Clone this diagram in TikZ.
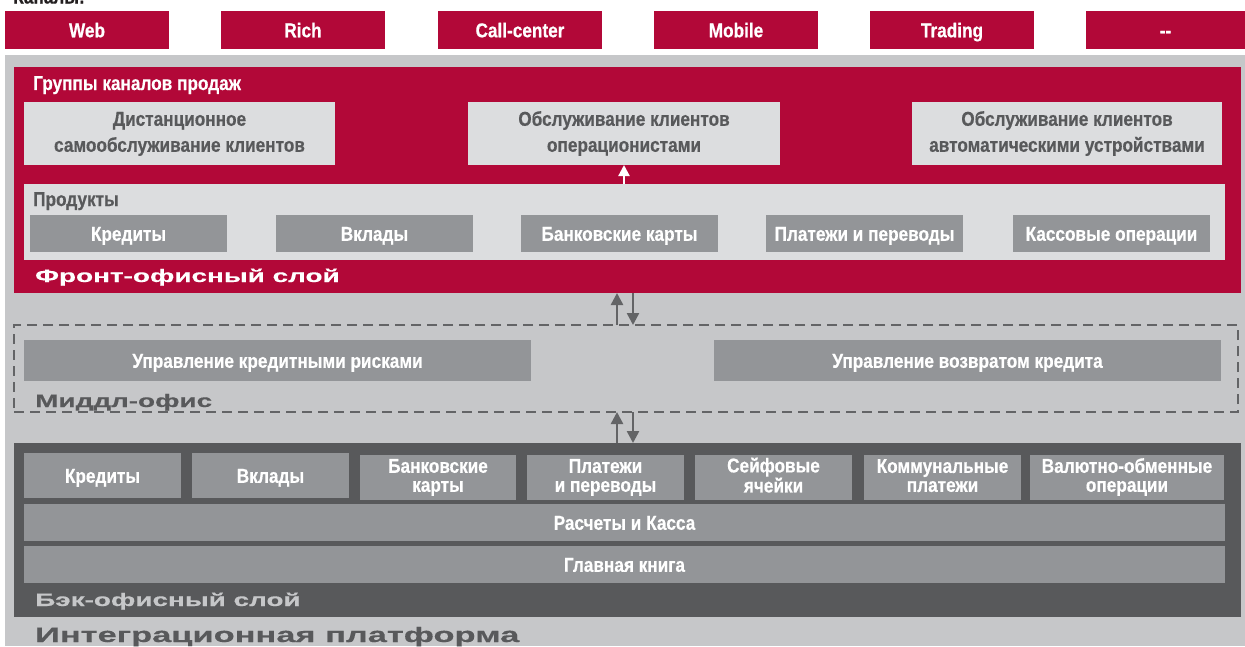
\documentclass[tikz,border=0pt]{standalone}
\usepackage{fontspec}
\setmainfont{Liberation Sans}
\newfontfamily\condf{Liberation Sans}[FakeStretch=0.86,FakeBold=0.5]
\newfontfamily\widef{Liberation Sans}[FakeStretch=1.55,FakeBold=0.4]
\newfontfamily\widerf{Liberation Sans}[FakeStretch=1.64,FakeBold=0.4]
\usetikzlibrary{arrows.meta}
\definecolor{cred}{HTML}{B20838}
\definecolor{cbg}{HTML}{C6C7C9}
\definecolor{clight}{HTML}{DCDDDF}
\definecolor{cmid}{HTML}{939598}
\definecolor{cdark}{HTML}{58595B}
\definecolor{carrow}{HTML}{636466}
\definecolor{cblack}{HTML}{231F20}
\newcommand{\twol}[2]{\vphantom{Бб}#1\\#2\vphantom{Дд}}
\tikzset{
  panel/.style={anchor=north west, inner sep=0pt, outer sep=0pt},
  boxtext/.style={font=\condf\bfseries\fontsize{20}{19}\selectfont, align=center},
  one/.style={text height=14.5pt, text depth=0pt},
  chan/.style={panel, fill=cred, minimum height=38pt, text=white, boxtext, one},
  lbox/.style={panel, fill=clight, minimum height=63pt, text=cdark, boxtext, font=\condf\bfseries\fontsize{20}{26}\selectfont, yshift=-3pt},
  pbox/.style={panel, fill=cmid, minimum width=197pt, minimum height=37pt, text=white, boxtext, one},
  bbox/.style={panel, fill=cmid, minimum height=45pt, text=white, boxtext},
  lbl/.style={anchor=base west, inner sep=0pt},
  garr/.style={draw=carrow, line width=2.5pt, -{Triangle[length=12pt,width=12pt]}},
  warr/.style={draw=white, line width=2.2pt, -{Triangle[length=11pt,width=11pt]}},
}
\begin{document}
\begin{tikzpicture}[x=1pt,y=-1pt]
\useasboundingbox (0,0) rectangle (1245,646);
\fill[white] (0,0) rectangle (1245,646);
% title (cut off at the top edge, as in the original)
\node[lbl, text=cblack, font=\condf\bfseries\fontsize{20}{22}\selectfont] (ttl) at (13,3.5) {Каналы:};
% channels
\node[chan, minimum width=164pt] (c1) at (5,11) {Web};
\node[chan, minimum width=164pt] (c2) at (221,11) {Rich};
\node[chan, minimum width=164pt] (c3) at (438,11) {Call-center};
\node[chan, minimum width=164pt] (c4) at (654,11) {Mobile};
\node[chan, minimum width=164pt] (c5) at (870,11) {Trading};
\node[chan, minimum width=159pt] (c6) at (1086,11) {-{}-};
% integration platform background
\node[panel, fill=cbg, minimum width=1240pt, minimum height=591pt] (plat) at (5,55) {};
% front office
\node[panel, fill=cred, minimum width=1227pt, minimum height=226pt] (front) at (14,67) {};
\node[lbl, text=white, font=\condf\bfseries\fontsize{20}{22}\selectfont] (grp) at (33,90) {Группы каналов продаж};
\node[lbox, minimum width=311pt] (dist) at (24,99) {\twol{Дистанционное}{самообслуживание клиентов}};
\node[lbox, minimum width=312pt] (ops) at (468,99) {\twol{Обслуживание клиентов}{операционистами}};
\node[lbox, minimum width=310pt] (auto) at (912,99) {\twol{Обслуживание клиентов}{автоматическими устройствами}};
\node[panel, fill=clight, minimum width=1201pt, minimum height=76pt] (prod) at (24,184) {};
\node[lbl, text=cdark, font=\condf\bfseries\fontsize{20}{22}\selectfont] (prodl) at (33,206) {Продукты};
\node[pbox] (p1) at (30,215) {Кредиты};
\node[pbox] (p2) at (276,215) {Вклады};
\node[pbox] (p3) at (521,215) {Банковские карты};
\node[pbox] (p4) at (766,215) {Платежи и переводы};
\node[pbox] (p5) at (1013,215) {Кассовые операции};
\node[lbl, text=white, font=\widef\bfseries\fontsize{18}{20}\selectfont] (frontl) at (35,282) {Фронт-офисный слой};
\draw[warr] (ops.south |- prod.north) -- (ops.south);
% middle office
\node[panel, draw=carrow, line width=2.5pt, dash pattern=on 10pt off 6pt, minimum width=1224pt, minimum height=87pt] (mid) at (14,325) {};
\node[panel, fill=cmid, minimum width=507pt, minimum height=41pt, text=white, boxtext, one] (m1) at (24,340) {Управление кредитными рисками};
\node[panel, fill=cmid, minimum width=507pt, minimum height=41pt, text=white, boxtext, one] (m2) at (714,340) {Управление возвратом кредита};
\node[lbl, text=cdark, font=\widef\bfseries\fontsize{18}{20}\selectfont] (midl) at (35,407) {Миддл-офис};
% back office
\node[panel, fill=cdark, minimum width=1227pt, minimum height=174pt] (back) at (14,443) {};
\node[bbox, minimum width=157pt, one] (b1) at (24,453) {Кредиты};
\node[bbox, minimum width=157pt, one] (b2) at (192,453) {Вклады};
\node[bbox, minimum width=156pt, yshift=-1.5pt] (b3) at (360,453) {\twol{Банковские}{карты}};
\node[bbox, minimum width=157pt, yshift=-1.5pt] (b4) at (527,453) {\twol{Платежи}{и переводы}};
\node[bbox, minimum width=157pt, yshift=-1.5pt] (b5) at (695,453) {\twol{Сейфовые}{ячейки}};
\node[bbox, minimum width=157pt, yshift=-1.5pt] (b6) at (864,453) {\twol{Коммунальные}{платежи}};
\node[bbox, minimum width=194pt, yshift=-1.5pt] (b7) at (1030,453) {\twol{Валютно-обменные}{операции}};
\node[panel, fill=cmid, minimum width=1201pt, minimum height=37pt, text=white, boxtext, one] (rk) at (24,504) {Расчеты и Касса};
\node[panel, fill=cmid, minimum width=1201pt, minimum height=37pt, text=white, boxtext, one] (gk) at (24,546) {Главная книга};
\node[lbl, text=cbg, font=\widef\bfseries\fontsize{18}{20}\selectfont] (backl) at (35,606) {Бэк-офисный слой};
\node[lbl, text=cdark, font=\widerf\bfseries\fontsize{21}{24}\selectfont] (platl) at (35,642) {Интеграционная платформа};
% arrows between layers
\coordinate (u) at (617,0);
\coordinate (d) at (633,0);
\draw[garr] (u |- mid.north) -- (u |- front.south);
\draw[garr] (d |- front.south) -- (d |- mid.north);
\draw[garr] (u |- back.north) -- (u |- mid.south);
\draw[garr] (d |- mid.south) -- (d |- back.north);
\end{tikzpicture}
\end{document}
